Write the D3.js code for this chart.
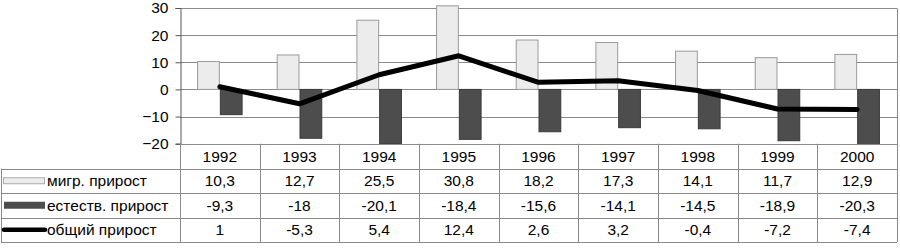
<!DOCTYPE html>
<html><head><meta charset="utf-8">
<script src="https://cdn.jsdelivr.net/npm/d3@7/dist/d3.min.js"></script>
<style>
html,body{margin:0;padding:0;background:#fff;}
svg{display:block;font-family:"Liberation Sans",Arial,sans-serif;}
</style></head>
<body><svg id="c" width="900" height="248"></svg>
<script>
const years = ["1992","1993","1994","1995","1996","1997","1998","1999","2000"];
const migr = [10.3,12.7,25.5,30.8,18.2,17.3,14.1,11.7,12.9];
const natural = [-9.3,-18,-20.1,-18.4,-15.6,-14.1,-14.5,-18.9,-20.3];
const total = [1,-5.3,5.4,12.4,2.6,3.2,-0.4,-7.2,-7.4];
const yTicks = [-20,-10,0,10,20,30];
const seriesNames = ["мигр. прирост","естеств. прирост","общий прирост"];

const fmt = v => String(v).replace(".", ",");
const FS = 15.5;

const svg = d3.select("#c");
const pL = 180, pR = 897, pT = 8, pB = 143.7;
const x = d3.scaleBand().domain(years).range([pL, pR]).paddingInner(0).paddingOuter(0);
const y = d3.scaleLinear().domain([-20, 30]).range([pB, pT]);
const bw = x.bandwidth() / 3.5;

const grid = "#8a8a8a";
svg.append("g").selectAll("line").data(yTicks).join("line")
  .attr("x1", pL).attr("x2", pR)
  .attr("y1", d => Math.round(y(d)) + 0.5).attr("y2", d => Math.round(y(d)) + 0.5)
  .attr("stroke", grid).attr("stroke-width", 1);
svg.append("line").attr("x1", pR + 0.5).attr("x2", pR + 0.5)
  .attr("y1", Math.round(y(30)) + 0.5).attr("y2", Math.round(y(-20)) + 0.5)
  .attr("stroke", grid);

const yAxis = d3.axisLeft(y).tickValues(yTicks).tickSize(5).tickPadding(7);
const ga = svg.append("g").attr("transform", `translate(${pL + 0.5},0)`).call(yAxis);
ga.select(".domain").attr("stroke", "#555");
ga.selectAll(".tick line").attr("stroke", "#555");
ga.selectAll(".tick text").attr("font-size", FS).attr("fill", "#000")
  .attr("font-family", "'Liberation Sans',Arial,sans-serif");

svg.append("g").selectAll("rect").data(migr).join("rect")
  .attr("x", (d, i) => x(years[i]) + x.bandwidth() / 2 - bw + 0.5)
  .attr("width", bw - 1)
  .attr("y", d => y(d))
  .attr("height", d => y(0) - y(d))
  .attr("fill", "#ececec").attr("stroke", "#9a9a9a").attr("stroke-width", 1);
svg.append("g").selectAll("rect").data(natural).join("rect")
  .attr("x", (d, i) => x(years[i]) + x.bandwidth() / 2 + 0.5)
  .attr("width", bw - 1)
  .attr("y", y(0))
  .attr("height", d => y(d) - y(0))
  .attr("fill", "#4d4d4d").attr("stroke", "#3a3a3a").attr("stroke-width", 1);

const line = d3.line().x((d, i) => x(years[i]) + x.bandwidth() / 2).y(d => y(d));
svg.append("path").datum(total).attr("d", line)
  .attr("fill", "none").attr("stroke", "#000").attr("stroke-width", 5)
  .attr("stroke-linejoin", "round").attr("stroke-linecap", "round");

const rowY = [143.7, 168.5, 193, 217.5, 242];
const tl = "#8a8a8a";
const tg = svg.append("g");
rowY.forEach((ry, k) => {
  tg.append("line").attr("x1", k === 0 ? pL : 1).attr("x2", pR)
    .attr("y1", Math.round(ry) + 0.5).attr("y2", Math.round(ry) + 0.5)
    .attr("stroke", tl);
});
const colX = years.map(yr => x(yr)).concat([pR]);
colX.forEach(cx => {
  tg.append("line").attr("x1", Math.round(cx) + 0.5).attr("x2", Math.round(cx) + 0.5)
    .attr("y1", rowY[0]).attr("y2", rowY[4]).attr("stroke", tl);
});
tg.append("line").attr("x1", 1.5).attr("x2", 1.5).attr("y1", rowY[1]).attr("y2", rowY[4]).attr("stroke", tl);

const rows = [years, migr.map(fmt), natural.map(fmt), total.map(fmt)];
rows.forEach((r, k) => {
  const cy = (rowY[k] + rowY[k + 1]) / 2;
  tg.append("g").selectAll("text").data(r).join("text")
    .attr("x", (d, i) => x(years[i]) + x.bandwidth() / 2)
    .attr("y", cy).attr("dy", "0.36em")
    .attr("text-anchor", "middle").attr("font-size", FS).attr("fill", "#000")
    .text(d => d);
});

const keyX1 = 3, keyX2 = 44;
const cy1 = (rowY[1] + rowY[2]) / 2, cy2 = (rowY[2] + rowY[3]) / 2, cy3 = (rowY[3] + rowY[4]) / 2;
tg.append("rect").attr("x", keyX1 + 0.5).attr("y", cy1 - 3).attr("width", keyX2 - keyX1).attr("height", 6)
  .attr("fill", "#ececec").attr("stroke", "#aaa");
tg.append("rect").attr("x", keyX1 + 1).attr("y", cy2 - 3.5).attr("width", keyX2 - keyX1).attr("height", 7)
  .attr("fill", "#4d4d4d");
tg.append("line").attr("x1", keyX1 + 1).attr("x2", keyX2 + 1).attr("y1", cy3).attr("y2", cy3)
  .attr("stroke", "#000").attr("stroke-width", 4.5).attr("stroke-linecap", "round");
[cy1, cy2, cy3].forEach((cy, k) => {
  tg.append("text").attr("x", 47).attr("y", cy).attr("dy", "0.36em")
    .attr("font-size", FS).attr("fill", "#000").text(seriesNames[k]);
});
</script></body></html>
